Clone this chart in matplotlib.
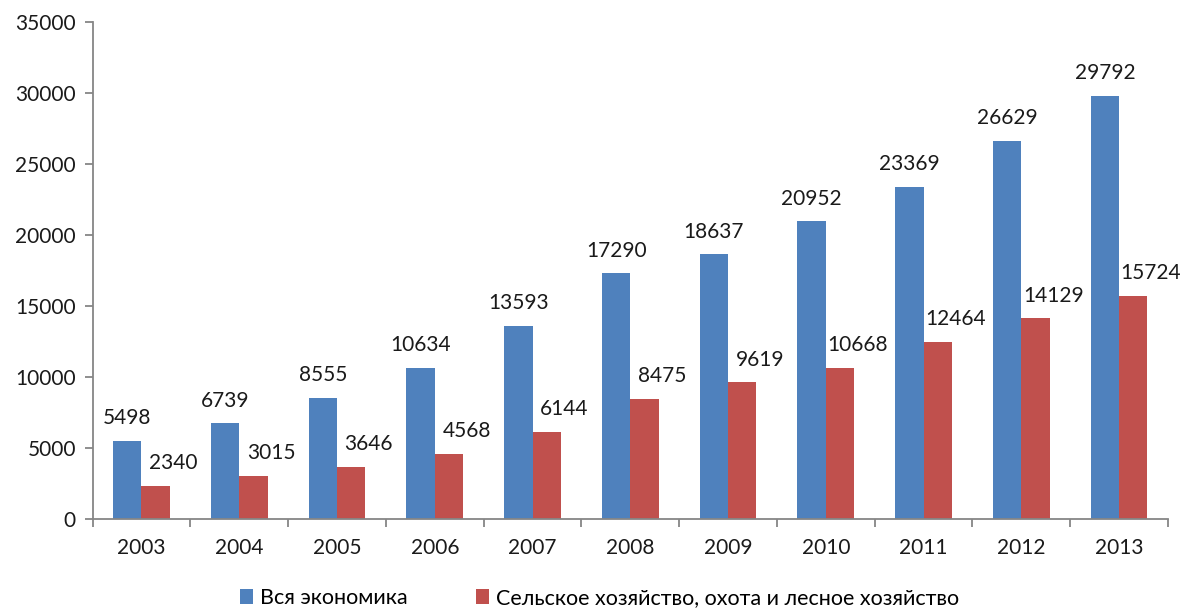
import numpy as np
import matplotlib
matplotlib.use('Agg')
import matplotlib.pyplot as plt

plt.rcParams['font.family'] = ['Lato', 'DejaVu Sans']

years = ['2003', '2004', '2005', '2006', '2007', '2008', '2009', '2010', '2011', '2012', '2013']
economy = [5498, 6739, 8555, 10634, 13593, 17290, 18637, 20952, 23369, 26629, 29792]
agriculture = [2340, 3015, 3646, 4568, 6144, 8475, 9619, 10668, 12464, 14129, 15724]

fig = plt.figure(figsize=(11.87, 6.12), dpi=100)
ax = fig.add_axes([0.078, 0.152, 0.906, 0.812])

x = np.arange(len(years))
w = 0.29
b1 = ax.bar(x - w / 2, economy, w, color='#4F81BD', label='Вся экономика')
b2 = ax.bar(x + w / 2, agriculture, w, color='#C0504D',
            label='Сельское хозяйство, охота и лесное хозяйство')

# value labels
for xi, v in zip(x, economy):
    ax.text(xi - w / 2, v + 900, str(v), ha='center', va='bottom', fontsize=15, color='#1a1a1a')
for xi, v in zip(x, agriculture):
    ax.text(xi + w / 2 + 0.18, v + 900, str(v), ha='center', va='bottom', fontsize=15, color='#1a1a1a')

ax.set_xlim(-0.5, len(years) - 0.5)
ax.set_ylim(0, 35000)
ax.set_yticks(range(0, 35001, 5000))
ax.set_xticks(x)
ax.set_xticklabels(years)
ax.set_xticks(np.arange(-0.5, len(years), 1), minor=True)
ax.tick_params(axis='x', which='major', length=0, pad=14, labelsize=15, labelcolor='#1a1a1a')
ax.tick_params(axis='x', which='minor', length=6, width=1.3, color='#868686', direction='out')
ax.tick_params(axis='y', length=6, width=1.3, color='#868686', labelsize=15, labelcolor='#1a1a1a', pad=6)

for s in ['top', 'right']:
    ax.spines[s].set_visible(False)
for s in ['left', 'bottom']:
    ax.spines[s].set_color('#868686')
    ax.spines[s].set_linewidth(1.3)

fig.legend(handles=[b1, b2], loc='lower center', bbox_to_anchor=(0.505, -0.025), ncol=2,
           frameon=False, fontsize=15.5, handlelength=0.6, handleheight=0.7,
           handletextpad=0.3, columnspacing=3.2)

fig.savefig('out.png', dpi=100)
